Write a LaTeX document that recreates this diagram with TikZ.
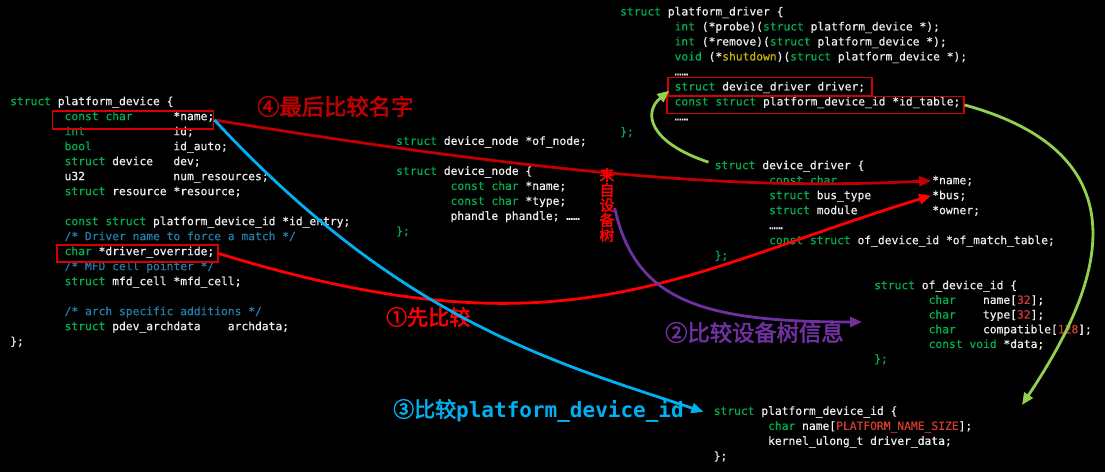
\documentclass[tikz,border=0pt]{standalone}
\usepackage{fontspec}
\usetikzlibrary{arrows.meta}
\pgfdeclarelayer{top}
\pgfsetlayers{main,top}
\newfontfamily\codefont[FakeBold=0.5]{DejaVu Sans Mono}
\newfontfamily\codebold{DejaVu Sans Mono Bold}
\newfontfamily\cjk[AutoFakeBold=2.5]{Noto Sans CJK SC}
\definecolor{kwc}{RGB}{0,176,80}
\definecolor{cwc}{RGB}{238,238,238}
\definecolor{cmc}{RGB}{35,125,170}
\definecolor{nmc}{RGB}{215,60,50}
\definecolor{ylc}{RGB}{200,180,0}
\definecolor{dred}{RGB}{192,0,0}
\definecolor{bred}{RGB}{255,0,0}
\definecolor{purc}{RGB}{112,48,160}
\definecolor{cyanc}{RGB}{0,176,240}
\definecolor{lgreen}{RGB}{146,208,80}
\definecolor{boxred}{RGB}{215,0,0}
\newcommand\kwd[1]{\textcolor{kwc}{#1}}
\newcommand\cmt[1]{\textcolor{cmc}{#1}}
\newcommand\nmb[1]{\textcolor{nmc}{#1}}
\newcommand\ylw[1]{\textcolor{ylc}{#1}}
\begin{document}
\begin{tikzpicture}[x=1pt,y=-1pt,
  code/.style={inner sep=0pt, anchor=mid west, font=\codefont\fontsize{11.3}{13}\selectfont, text=cwc},
  redbox/.style={draw=boxred, line width=1.3pt, inner sep=0pt},
  lbl/.style={inner sep=0pt, anchor=base west, font=\cjk\bfseries\fontsize{21}{24}\selectfont},
  lblbig/.style={lbl, font=\cjk\bfseries\fontsize{22.3}{24}\selectfont},
  conn/.style={line width=2.8pt, -{Triangle[length=12pt,width=10pt]}}
]
\fill[black] (0,0) rectangle (1105,472);
\useasboundingbox (0,0) rectangle (1105,472);

% ---- struct platform_device ----
\node[code] (a0) at (10,103) {\kwd{struct} platform\_device \{};
\node[code] (a1) at (64.4,118) {\kwd{const char}};
\node[code] (a1b) at (173.2,118) {*name;};
\node[code] (a2) at (64.4,133) {\kwd{int}};
\node[code] (a2b) at (173.2,133) {id;};
\node[code] (a3) at (64.4,148) {\kwd{bool}};
\node[code] (a3b) at (173.2,148) {id\_auto;};
\node[code] (a4) at (64.4,163) {\kwd{struct} device};
\node[code] (a4b) at (173.2,163) {dev;};
\node[code] (a5) at (64.4,178) {u32};
\node[code] (a5b) at (173.2,178) {num\_resources;};
\node[code] (a6) at (64.4,193) {\kwd{struct} resource *resource;};
\node[code] (a8) at (64.4,223) {\kwd{const struct} platform\_device\_id *id\_entry;};
\node[code] (a9) at (64.4,238) {\cmt{/* Driver name to force a match */}};
\node[code] (a10) at (64.4,253) {\kwd{char} *driver\_override;};
\node[code] (a11) at (64.4,268) {\cmt{/* MFD cell pointer */}};
\node[code] (a12) at (64.4,283) {\kwd{struct} mfd\_cell *mfd\_cell;};
\node[code] (a14) at (64.4,313) {\cmt{/* arch specific additions */}};
\node[code] (a15) at (64.4,328) {\kwd{struct} pdev\_archdata};
\node[code] (a15b) at (227.6,328) {archdata;};
\node[code] (a16) at (10,343) {\};};

% ---- device_node ----
\node[code] (b0) at (396,142.7) {\kwd{struct} device\_node *of\_node;};
\node[code] (b1) at (396,172.7) {\kwd{struct} device\_node \{};
\node[code] (b2) at (450.4,187.7) {\kwd{const char} *name;};
\node[code] (b3) at (450.4,202.7) {\kwd{const char} *type;};
\node[code] (b4) at (450.4,217.7) {phandle phandle; ……};
\node[code] (b5) at (396,232.7) {\kwd{\};}};

% ---- platform_driver ----
\node[code] (c0) at (620,13.3) {\kwd{struct} platform\_driver \{};
\node[code] (c1) at (674.4,28.3) {\kwd{int} (*probe)(\kwd{struct} platform\_device *);};
\node[code] (c2) at (674.4,43.3) {\kwd{int} (*remove)(\kwd{struct} platform\_device *);};
\node[code] (c3) at (674.4,58.3) {\kwd{void} (*\ylw{shutdown})(\kwd{struct} platform\_device *);};
\node[code] (c4) at (674.4,73.3) {……};
\node[code] (c5) at (674.4,88.3) {\kwd{struct} device\_driver driver;};
\node[code] (c6) at (674.4,103.3) {\kwd{const struct} platform\_device\_id *id\_table;};
\node[code] (c7) at (674.4,118.3) {……};
\node[code] (c8) at (620,133.3) {\kwd{\};}};

% ---- device_driver ----
\node[code] (d0) at (714.5,167) {\kwd{struct} device\_driver \{};
\node[code] (d1) at (768.9,182) {\kwd{const char}};
\node[code] (d1b) at (932.1,182) {*name;};
\node[code] (d2) at (768.9,197) {\kwd{struct} bus\_type};
\node[code] (d2b) at (932.1,197) {*bus;};
\node[code] (d3) at (768.9,212) {\kwd{struct} module};
\node[code] (d3b) at (932.1,212) {*owner;};
\node[code] (d4) at (768.9,227) {……};
\node[code] (d5) at (768.9,242) {\kwd{const struct} of\_device\_id *of\_match\_table;};
\node[code] (d6) at (714.5,257) {\kwd{\};}};

% ---- of_device_id ----
\node[code] (e0) at (874,287) {\kwd{struct} of\_device\_id \{};
\node[code] (e1) at (928.4,301.7) {\kwd{char}};
\node[code] (e1b) at (982.8,301.7) {name[\nmb{32}];};
\node[code] (e2) at (928.4,316.4) {\kwd{char}};
\node[code] (e2b) at (982.8,316.4) {type[\nmb{32}];};
\node[code] (e3) at (928.4,331.1) {\kwd{char}};
\node[code] (e3b) at (982.8,331.1) {compatible[\nmb{128}];};
\node[code] (e4) at (928.4,345.8) {\kwd{const void} *data;};
\node[code] (e5) at (874,360.5) {\kwd{\};}};

% ---- platform_device_id ----
\node[code] (f0) at (713.5,412.7) {\kwd{struct} platform\_device\_id \{};
\node[code] (f1) at (767.9,427.7) {\kwd{char} name[\nmb{PLATFORM\_NAME\_SIZE}];};
\node[code] (f2) at (767.9,442.7) {kernel\_ulong\_t driver\_data;};
\node[code] (f3) at (713.5,457.7) {\};};

% ---- red boxes ----
\node[redbox, minimum width=161pt, minimum height=18pt] (box1) at (133.3,120) {};
\node[redbox, minimum width=161pt, minimum height=17pt] (box2) at (137.5,253.5) {};
\node[redbox, minimum width=204pt, minimum height=18.5pt] (boxA) at (770,86.7) {};
\node[redbox, minimum width=297pt, minimum height=16.7pt] (boxB) at (815.5,105) {};

% ---- labels ----
\node[lblbig, text=dred] (l4) at (257,115) {④最后比较名字};
\node[lbl, text=bred] (l1) at (386,325) {①先比较};
\node[lblbig, text=purc] (l2) at (665,341) {②比较设备树信息};
\node[lbl, text=cyanc] (l3) at (393,417) {③比较{\codebold platform\_device\_id}};
\begin{pgfonlayer}{top}
\node[inner sep=0pt, align=center, text=bred, font=\cjk\bfseries\fontsize{15}{15}\selectfont] (vt) at (607,205) {来\\自\\设\\备\\树};
\end{pgfonlayer}

% ---- connectors ----
\coordinate (pend) at (862,322);
\coordinate (gend) at (1022,405);
\draw[conn, draw=dred] (box1.east) .. controls (613,185) and (780,188) .. ([xshift=-1pt]d1b.west);
\draw[conn, draw=bred] (box2.east) .. controls (568,361) and (680,272) .. ([xshift=-1pt]d2b.west);
\draw[conn, draw=cyanc] (box1.east) .. controls (400,320) and (553,362) .. ([xshift=-10pt]f0.west);
\draw[conn, draw=purc] ([shift={(0,3)}]vt.east) .. controls (635,300) and (700,322) .. (pend);
\draw[conn, draw=lgreen] ([shift={(-6,-4)}]d0.west) .. controls (648,142) and (643,112) .. ([shift={(2,4)}]boxA.west);
\draw[conn, draw=lgreen] (boxB.east) .. controls (1165,160) and (1085,310) .. (gend);
\end{tikzpicture}
\end{document}
